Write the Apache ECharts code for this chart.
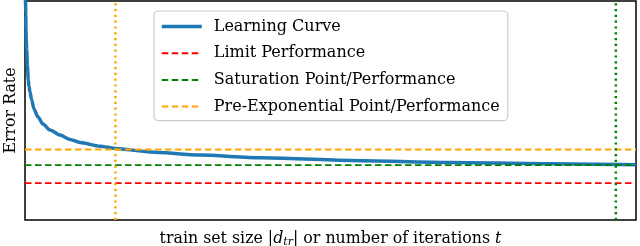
<!DOCTYPE html>
<html>
<head>
<meta charset="utf-8">
<script src="https://cdn.jsdelivr.net/npm/echarts@6/dist/echarts.min.js"></script>
<style>
html,body{margin:0;padding:0;background:#fff;}
#chart{width:640px;height:246px;}
</style>
</head>
<body>
<div id="chart"></div>
<script>
// Learning curve (x: 0..100 of the axis, y: 0..100 of the axis)
var curveX = [0.08, 0.13, 0.16, 0.21, 0.28, 0.39, 0.54, 0.65, 0.82, 1.10, 1.47, 2.13, 2.95, 4.09, 5.73, 7.36, 9.00, 12.27, 14.73, 20.46, 28.64, 38.46, 53.19, 69.56, 85.92, 100];
var curveY = [100.5, 93.6, 86.8, 82.2, 77.6, 70.8, 63.9, 61.2, 58.4, 54.8, 50.7, 47.0, 43.8, 41.1, 38.8, 36.8, 35.4, 33.7, 32.7, 31.1, 29.7, 28.4, 27.2, 26.3, 25.7, 25.2];
var limitY = 16.8;
var saturationY = 25.1;
var preExpY = 32.2;
var saturationX = 96.7;
var preExpX = 14.8;
var legendNames = ['Learning Curve', 'Limit Performance', 'Saturation Point/Performance', 'Pre-Exponential Point/Performance'];

var serif = 'DejaVu Serif';
var curve = curveX.map(function (x, i) { return [x, curveY[i]]; });
function hline(y) { return [[0, y], [100, y]]; }
function vline(x) { return [[x, 0], [x, 100]]; }

var chart = echarts.init(document.getElementById('chart'));
chart.setOption({
  animation: false,
  backgroundColor: '#fff',
  grid: { left: 25, right: 4, top: 1, bottom: 26, containLabel: false, outerBoundsMode: 'none',
          show: true, borderColor: '#000', borderWidth: 1.5, backgroundColor: 'transparent' },
  xAxis: {
    type: 'value', min: 0, max: 100,
    axisLine: { show: false }, axisTick: { show: false }, axisLabel: { show: false }, splitLine: { show: false },
    name: '{a|train set size |}{i|d}{s|tr}{a|| or number of iterations }{i|t}',
    nameLocation: 'middle', nameGap: 9,
    nameTextStyle: {
      rich: {
        a: { fontFamily: serif, fontSize: 15.8, color: '#000' },
        i: { fontFamily: serif, fontSize: 15.8, fontStyle: 'italic', color: '#000' },
        s: { fontFamily: serif, fontSize: 11, fontStyle: 'italic', color: '#000', padding: [8, 0, 0, 0] }
      }
    }
  },
  yAxis: {
    type: 'value', min: 0, max: 100,
    axisLine: { show: false }, axisTick: { show: false }, axisLabel: { show: false }, splitLine: { show: false },
    name: 'Error Rate', nameLocation: 'middle', nameGap: 6,
    nameTextStyle: { fontFamily: serif, fontSize: 15.8, color: '#000' }
  },
  legend: {
    data: [
      { name: legendNames[0], lineStyle: { width: 3.5 } },
      { name: legendNames[1] },
      { name: legendNames[2] },
      { name: legendNames[3] }
    ],
    orient: 'vertical',
    left: 154, top: 11,
    padding: [7.5, 8, 6, 6],
    itemWidth: 40, itemHeight: 16, itemGap: 10.7,
    backgroundColor: 'rgba(255,255,255,0.85)',
    borderColor: '#cccccc', borderWidth: 1.2, borderRadius: 4,
    itemStyle: { opacity: 0 },
    textStyle: { fontFamily: serif, fontSize: 16, color: '#000', lineHeight: 16, padding: [0, 0, 0, 7] }
  },
  series: [
    { name: legendNames[0], type: 'line', data: curve, smooth: 0.25, smoothMonotone: 'x', symbol: 'none', z: 3,
      lineStyle: { color: '#1f77b4', width: 3.5 }, itemStyle: { color: '#1f77b4' } },
    { name: legendNames[1], type: 'line', data: hline(limitY), symbol: 'none', z: 4,
      lineStyle: { color: '#ff0000', width: 1.8, type: [6.5, 3.5] }, itemStyle: { color: '#ff0000' } },
    { name: legendNames[2], type: 'line', data: hline(saturationY), symbol: 'none', z: 4,
      lineStyle: { color: '#008000', width: 1.8, type: [6.5, 3.5] }, itemStyle: { color: '#008000' } },
    { name: legendNames[3], type: 'line', data: hline(preExpY), symbol: 'none', z: 4,
      lineStyle: { color: '#ffa500', width: 1.8, type: [6.5, 3.5] }, itemStyle: { color: '#ffa500' } },
    { name: 'preExpV', type: 'line', data: vline(preExpX), symbol: 'none', z: 4,
      lineStyle: { color: '#ffa500', width: 2.5, type: [2.2, 3.6] } },
    { name: 'saturationV', type: 'line', data: vline(saturationX), symbol: 'none', z: 4,
      lineStyle: { color: '#008000', width: 2.5, type: [2.2, 3.6] } }
  ]
});
</script>
</body>
</html>
